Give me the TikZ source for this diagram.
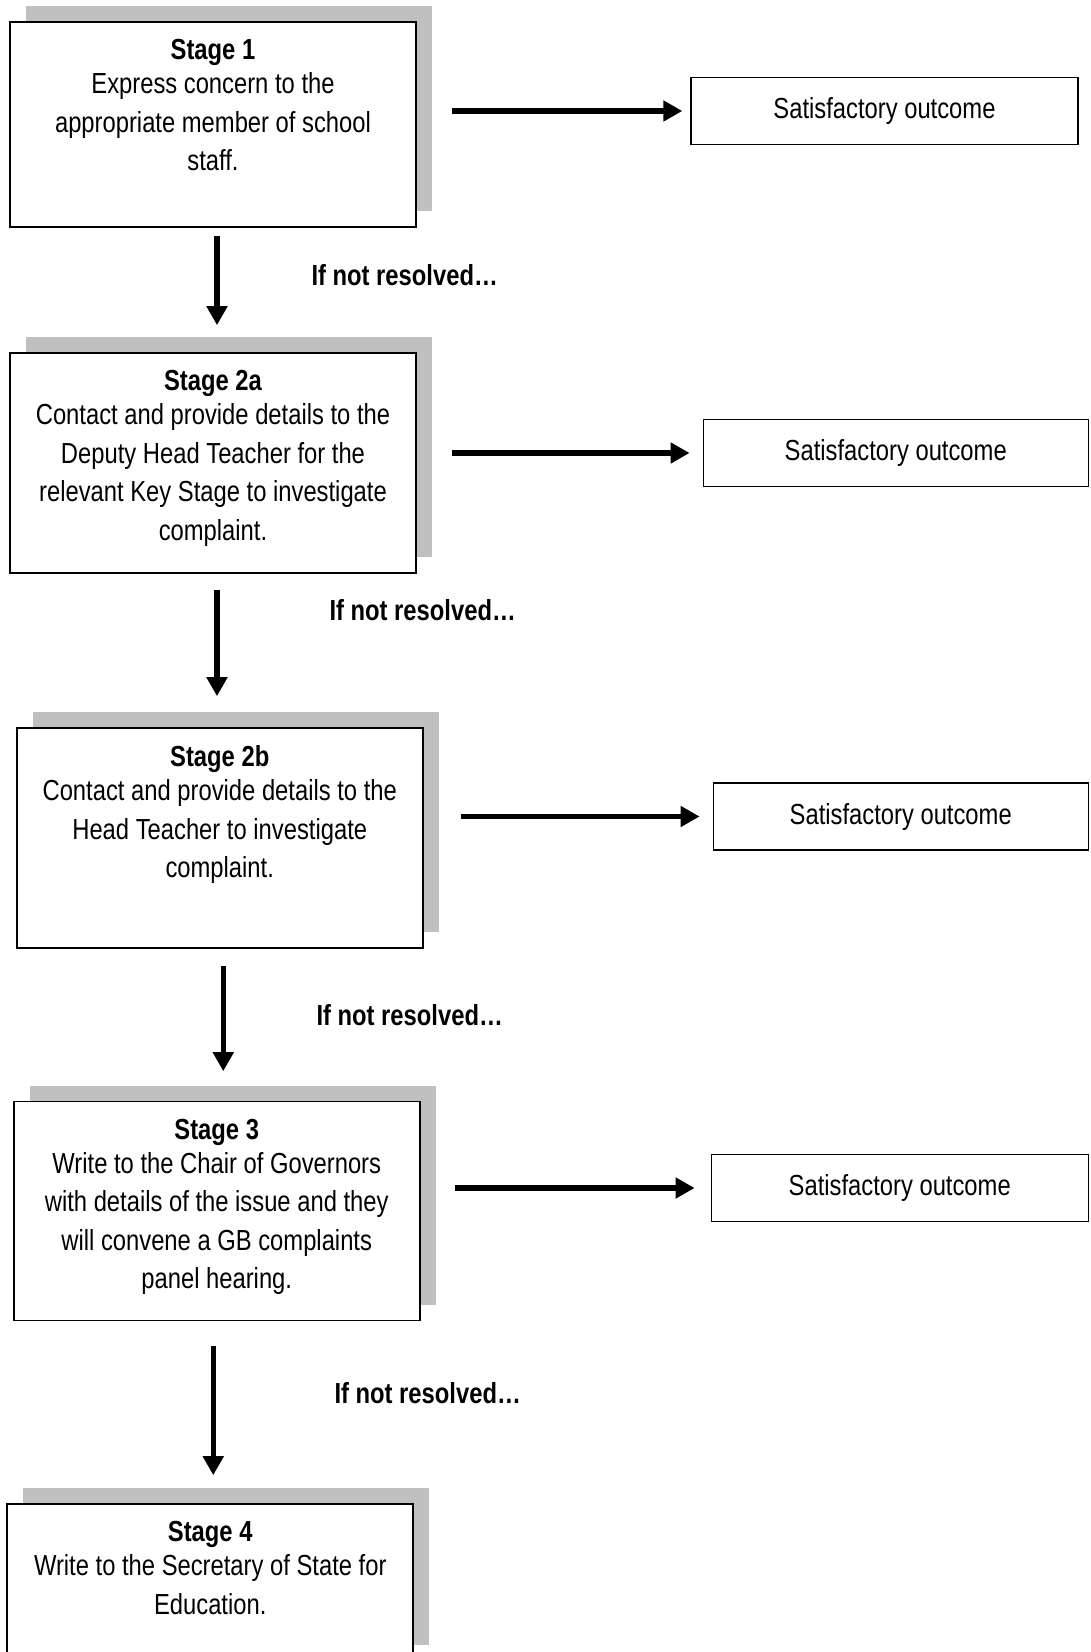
\documentclass[tikz,border=0pt]{standalone}
\usepackage{fontspec}
\setmainfont{Liberation Sans}[FakeStretch=0.82]
\usetikzlibrary{arrows.meta, positioning, shadows}

\definecolor{shadowgrey}{RGB}{192,192,192}
\newcommand{\stagetext}[3]{\parbox[t][#1][t]{406pt}{\centering\textbf{#2}\\[-4.5pt]#3}}

\begin{document}
\begin{tikzpicture}[x=1pt, y=-1pt, node distance=1cm, on grid,
    font=\fontsize{29}{38.5}\selectfont,
    stagebox/.style={rectangle, draw, line width=1.6pt, fill=white, inner xsep=0pt, inner ysep=17.5pt,
        drop shadow={shadow xshift=16pt, shadow yshift=16pt, fill=shadowgrey, opacity=1}},
    outcome/.style={rectangle, draw, line width=1.3pt, minimum height=67pt, inner sep=0pt},
    flow/.style={line width=5.5pt, -{Triangle[length=19pt, width=20pt]}},
    resolved/.style={anchor=base west, font=\fontsize{29}{38.5}\selectfont\bfseries}]

    \useasboundingbox (0,0) rectangle (1090,1652);

		\node[stagebox] (S1) at (213,124.5)                    {\stagetext{170pt}{Stage 1}{Express concern to the\\appropriate member of school\\staff.}};
		\node[stagebox] (S2a) [below=338.5pt of S1]            {\stagetext{185pt}{Stage 2a}{Contact and provide details to the\\Deputy Head Teacher for the\\relevant Key Stage to investigate\\complaint.}};
		\node[stagebox] (S2b) [below right=375pt and 6.75pt of S2a] {\stagetext{185pt}{Stage 2b}{Contact and provide details to the\\Head Teacher to investigate\\complaint.}};
		\node[stagebox] (S3) [below left=373pt and 3pt of S2b]  {\stagetext{184pt}{Stage 3}{Write to the Chair of Governors\\with details of the issue and they\\will convene a GB complaints\\panel hearing.}};
		\node[stagebox] (S4) [below left=371.5pt and 6.5pt of S3] {\stagetext{122pt}{Stage 4}{Write to the Secretary of State for\\Education.}};

		\node[outcome, minimum width=387pt] (O1) [above right=13.5pt and 671.5pt of S1]  {Satisfactory outcome};
		\node[outcome, minimum width=385pt] (O2) [above right=10pt and 682.75pt of S2a]  {Satisfactory outcome};
		\node[outcome, minimum width=375pt] (O3) [above right=21.5pt and 681pt of S2b]   {Satisfactory outcome};
		\node[outcome, minimum width=377pt] (O4) [above right=23pt and 683pt of S3]      {Satisfactory outcome};

		\node[resolved] (L1) at (308,285)  {If not resolved…};
		\node[resolved] (L2) at (326,620)  {If not resolved…};
		\node[resolved] (L3) at (313,1025) {If not resolved…};
		\node[resolved] (L4) at (331,1403) {If not resolved…};

    \draw[flow, shorten <=35pt, shorten >=8pt]  (S1.east |- O1.west) -- (O1.west);
    \draw[flow, shorten <=35pt, shorten >=13pt] (S2a.east |- O2.west) -- (O2.west);
    \draw[flow, shorten <=37pt, shorten >=13pt] (S2b.east |- O3.west) -- (O3.west);
    \draw[flow, shorten <=34pt, shorten >=16pt] (S3.east |- O4.west) -- (O4.west);

    \draw[flow, shorten <=8pt, shorten >=27pt]     ([xshift=4pt]S1.south) -- ([xshift=4pt]S1.south |- S2a.north);
    \draw[flow, shorten <=16pt, shorten >=31pt]    ([xshift=4pt]S2a.south) -- ([xshift=4pt]S2a.south |- S2b.north);
    \draw[flow, shorten <=17pt, shorten >=29.5pt]  ([xshift=3.5pt]S2b.south) -- ([xshift=3.5pt]S2b.south |- S3.north);
    \draw[flow, shorten <=24.5pt, shorten >=28pt]  ([xshift=-3.5pt]S3.south) -- ([xshift=-3.5pt]S3.south |- S4.north);

	\end{tikzpicture}
\end{document}
